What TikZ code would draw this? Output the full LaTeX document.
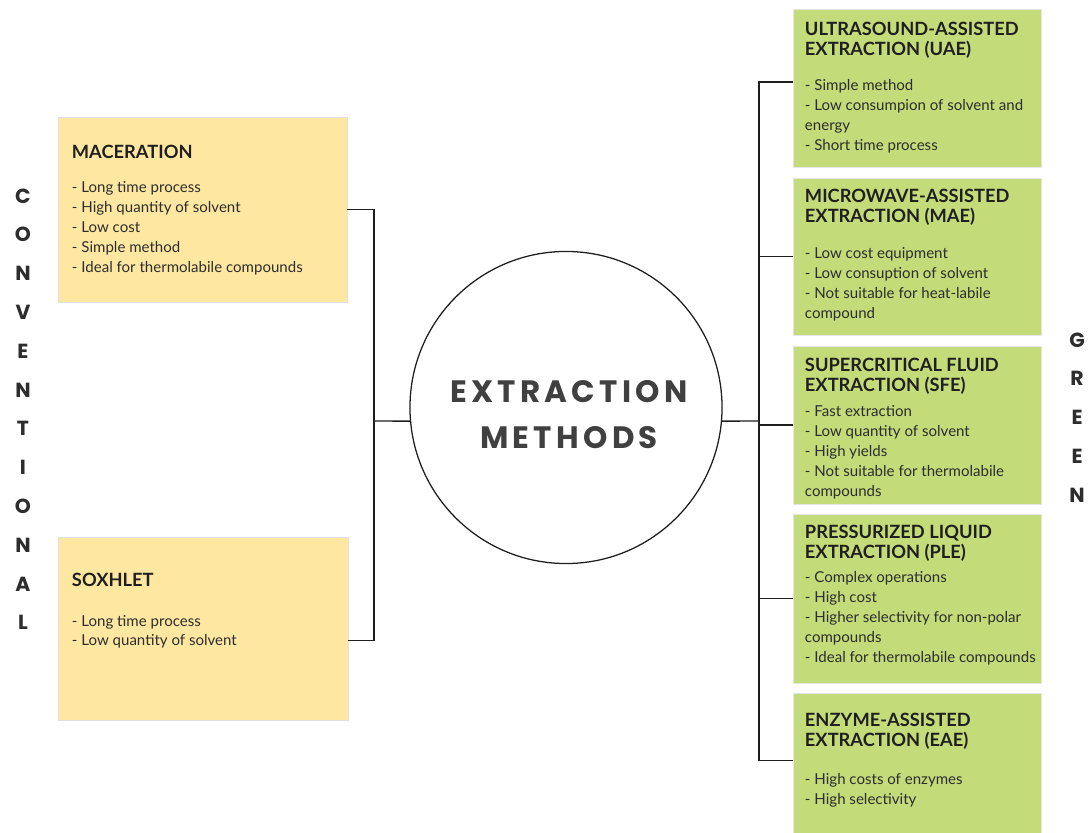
\documentclass[tikz,border=0pt]{standalone}
\usepackage{fontspec}
\setmainfont{Lato}
\newfontfamily\stampfont{Poppins}[LetterSpace=14]
\newfontfamily\sidefont{Poppins}
\usetikzlibrary{positioning}
\definecolor{boxyellow}{RGB}{254,232,161}
\definecolor{boxgreen}{RGB}{195,220,121}
\definecolor{inkgray}{RGB}{45,45,45}
\definecolor{linegray}{RGB}{30,30,30}
\tikzset{
  convbox/.style  = {rectangle, fill=boxyellow, draw=black!12, line width=0.4pt,
                     inner sep=0pt},
  greenbox/.style = {rectangle, fill=boxgreen, draw=black!10, line width=0.4pt,
                     inner sep=0pt, minimum width=6.2cm},
  boxtxt/.style   = {align=left, inner sep=0pt, text=inkgray,
                     font=\fontsize{10.7}{14.2}\selectfont},
  hubnode/.style  = {circle, draw=linegray, line width=0.9pt, minimum size=7.8cm,
                     inner sep=0pt},
  hubtxt/.style   = {align=center, inner sep=0pt, text=black!75,
                     font=\stampfont\bfseries\fontsize{22}{32.6}\selectfont},
  sidelbl/.style  = {inner sep=0pt, text=inkgray,
                     font=\sidefont\bfseries\fontsize{14.5}{14.5}\selectfont},
  link/.style     = {draw=linegray, line width=0.95pt}
}
\newcommand{\ttl}[1]{{\fontsize{13}{15}\selectfont\bfseries\color{black!88}#1}}

\begin{document}
\begin{tikzpicture}[x=0.025cm, y=-0.025cm]
  \useasboundingbox (0,0) rectangle (1089,833);
  % Centre
  \node[hubnode] (hub) at (566,407.5) {};
  \node[hubtxt] (hubT) at (569,414.5) {EXTRACTION\\METHODS};
  % Conventional methods
  \node[convbox, minimum width=7.225cm, minimum height=4.625cm] (mace) at (202.5,209.5) {};
  \node[convbox, minimum width=7.25cm,  minimum height=4.575cm] (soxh) at (203,628.5) {};
  \node[boxtxt, below right=0.7cm and 0.35cm of mace.north west] (maceT)
    {\ttl{MACERATION}\\[10pt]
     - Long time process\\
     - High quantity of solvent\\
     - Low cost\\
     - Simple method\\
     - Ideal for thermolabile compounds};
  \node[boxtxt, below right=0.9cm and 0.35cm of soxh.north west] (soxhT)
    {\ttl{SOXHLET}\\[14pt]
     - Long time process\\
     - Low quantity of solvent};
  % Green methods
  \node[greenbox, minimum height=3.95cm]  (uae) at (917,88)    {};
  \node[greenbox, minimum height=3.925cm] (mae) at (917,256.5) {};
  \node[greenbox, minimum height=3.95cm]  (sfe) at (917,425)   {};
  \node[greenbox, minimum height=4.225cm] (ple) at (917,598.5) {};
  \node[greenbox, minimum height=3.575cm] (eae) at (917,764.5) {};
  \node[boxtxt, below right=0.325cm and 0.3cm of uae.north west] (uaeT)
    {\ttl{ULTRASOUND-ASSISTED}\\
     \ttl{EXTRACTION (UAE)}\\[10.7pt]
     - Simple method\\
     - Low consumpion of solvent and\\
     energy\\
     - Short time process};
  \node[boxtxt, below right=0.275cm and 0.3cm of mae.north west] (maeT)
    {\ttl{MICROWAVE-ASSISTED}\\
     \ttl{EXTRACTION (MAE)}\\[11.4pt]
     - Low cost equipment\\
     - Low consuption of solvent\\
     - Not suitable for heat-labile\\
     compound};
  \node[boxtxt, below right=0.3cm and 0.3cm of sfe.north west] (sfeT)
    {\ttl{SUPERCRITICAL FLUID}\\
     \ttl{EXTRACTION (SFE)}\\[3.5pt]
     - Fast extraction\\
     - Low quantity of solvent\\
     - High yields\\
     - Not suitable for thermolabile\\
     compounds};
  \node[boxtxt, below right=0.275cm and 0.3cm of ple.north west] (pleT)
    {\ttl{PRESSURIZED LIQUID}\\
     \ttl{EXTRACTION (PLE)}\\[2.8pt]
     - Complex operations\\
     - High cost\\
     - Higher selectivity for non-polar\\
     compounds\\
     - Ideal for thermolabile compounds};
  \node[boxtxt, below right=0.5cm and 0.3cm of eae.north west] (eaeT)
    {\ttl{ENZYME-ASSISTED}\\
     \ttl{EXTRACTION (EAE)}\\[12.8pt]
     - High costs of enzymes\\
     - High selectivity};
  % Side labels
  \foreach \ch [count=\i from 0] in {C,O,N,V,E,N,T,I,O,N,A,L}
    \node[sidelbl] (conv\i) at (23,196+38.8*\i) {\ch};
  \foreach \ch [count=\i from 0] in {G,R,E,E,N}
    \node[sidelbl] (green\i) at (1077,340+38.75*\i) {\ch};
  % Connectors
  \coordinate (ltrunk) at (374,421);
  \coordinate (rtrunk) at (759,421);
  \draw[link] (mace.east) -| (ltrunk) |- ([yshift=-0.3cm]soxh.east);
  \draw[link] (ltrunk) -- (hub.185);
  \draw[link] ([yshift=0.15cm]uae.west) -| (rtrunk) |- ([yshift=0.1cm]eae.west);
  \foreach \b in {mae,sfe,ple}
    \draw[link] (\b.west) -- (\b.west -| rtrunk);
  \draw[link] (hub.-5) -- (rtrunk);
\end{tikzpicture}
\end{document}
